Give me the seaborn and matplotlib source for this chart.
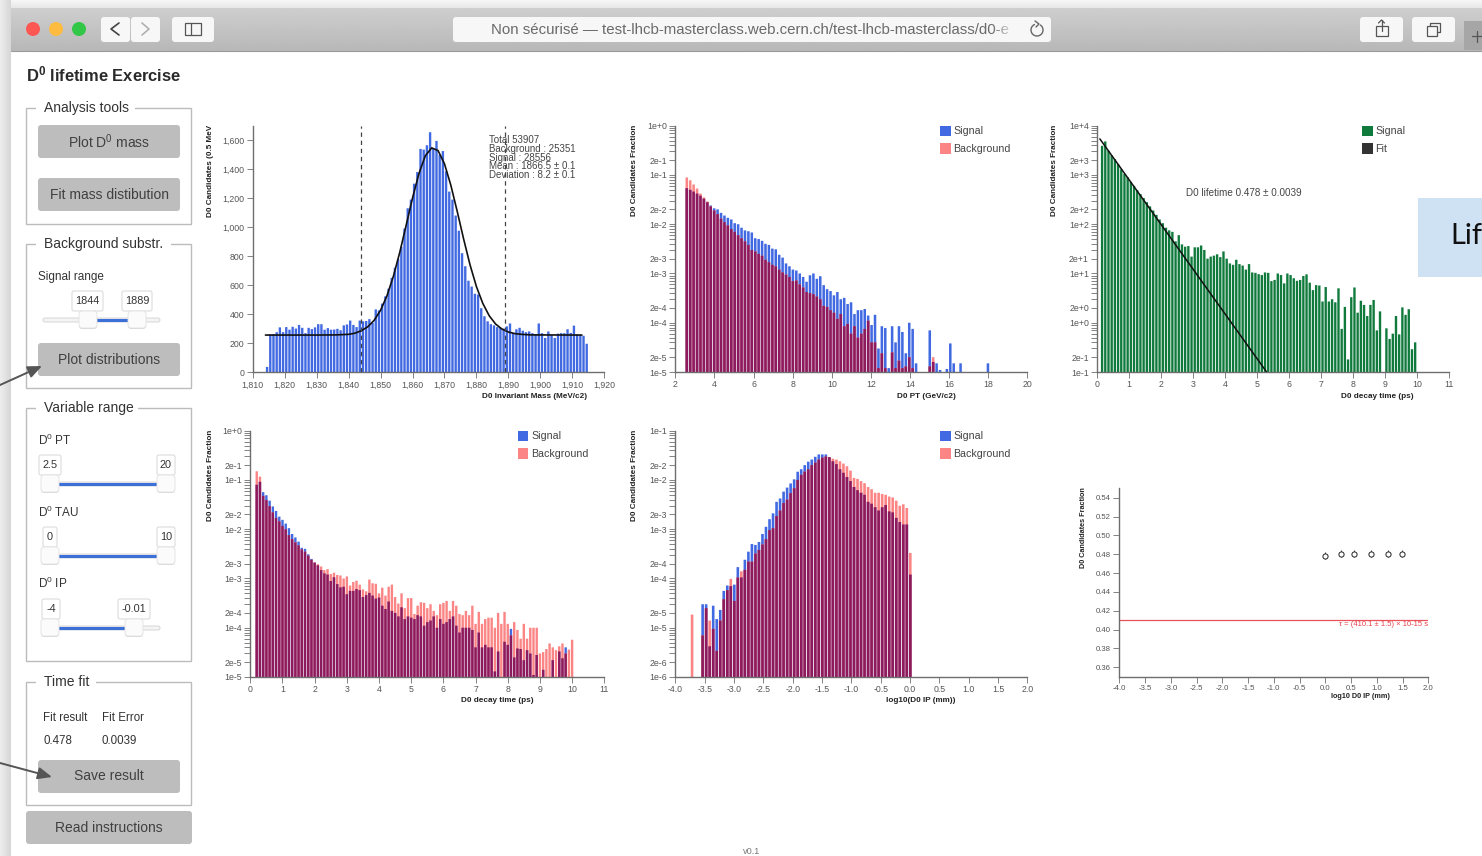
import numpy as np
import pandas as pd
import matplotlib
matplotlib.use("Agg")
import matplotlib.pyplot as plt
import seaborn as sns
from matplotlib.patches import FancyBboxPatch, Rectangle, Circle, Arc
from matplotlib.ticker import FixedLocator, FixedFormatter, NullFormatter

# mass histogram, 1 MeV bins starting at 1814.5
mass_start = 1814.5
mass_counts = [35, 260, 262, 275, 308, 275, 310, 292, 312, 300, 325, 305, 268, 305, 296, 308, 330, 330, 292, 303,
               292, 293, 298, 288, 322, 328, 355, 325, 310, 355, 350, 352, 365, 340, 432, 425, 472, 522, 575, 650,
               720, 780, 865, 990, 1130, 1190, 1300, 1380, 1540, 1535, 1565, 1655, 1540, 1595, 1500, 1525, 1385,
               1245, 1190, 1080, 975, 820, 730, 630, 590, 540, 535, 440, 385, 350, 330, 322, 310, 305, 300, 315,
               335, 270, 295, 305, 285, 275, 280, 268, 262, 335, 268, 235, 280, 255, 235, 265, 268, 268, 295, 270,
               320, 260, 255, 250, 195]
mass_fit_x = [1814, 1830, 1836, 1840, 1842, 1844, 1846, 1848, 1850, 1852, 1854, 1856, 1858, 1860, 1862, 1864, 1866,
              1868, 1870, 1872, 1874, 1876, 1878, 1880, 1882, 1884, 1886, 1888, 1890, 1892, 1894, 1897, 1913]
mass_fit_y = [255, 255, 256, 260, 268, 285, 312, 357, 426, 526, 660, 825, 1012, 1201, 1369, 1492, 1547,
              1528, 1437, 1288, 1107, 917, 739, 589, 473, 388, 331, 296, 276, 265, 260, 256, 255]
mass_cuts = [1844, 1889]
mass_notes = ["Total 53907", "Background : 25351", "Signal : 28556", "Mean : 1866.5 ± 0.1", "Deviation : 8.2 ± 0.1"]

# D0 PT
pt_start = 2.5875
pt_step = 0.175
pt_signal = [.054, .050, .046, .042, .038, .033, .028, .024, .021, .020, .017, .015, .0135, .0125, .0105, .0100,
             .0085, .0075, .0072, .0068, .0052, .0050, .0046, .0040, .0038, .0032, .0031, .0024, .0021, .0016,
             .0014, .0012, .00115, .0010, .00085, .00068, .00092, .0010, .00078, .00088, .00058, .00048, .00044,
             .00036, .00042, .00030, .00032, .00024, .00026, .00015, .00018, .00018, .00019, .00014, .00009,
             .000145, .00003, .000085, .000078, .000012, .000085, .00004, .000085, .000065, .000024, .0001,
             .000075, .000015, 0, 0, 0, .00007, .000016, .000015, .000011, 0, .0000115, .000038, .000015, 0,
             .000015, 0, 0, 0, 0, 0, 0, 0, .000015]
pt_background = [.089, .078, .064, .053, .042, .035, .029, .023, .019, .016, .013, .011, .0095, .0080, .0070, .0060,
                 .0052, .0045, .0038, .0030, .0028, .0025, .0023, .0019, .0017, .0015, .0014, .0012, .00105, .00095,
                 .00085, .00070, .00072, .00060, .00052, .00042, .00040, .00038, .00034, .00030, .00022, .00021,
                 .00018, .00016, .00012, .00015, .000085, .000095, .00006, .000085, .00005, .00006, .000075, .00011,
                 .00004, .00004, .000012, .000024, .000012, .00001, .000025, .000012, .000017, .000012, .000013,
                 .00002, .000012, 0, 0, 0, 0, .000013, .00002]

# D0 decay time, background subtracted fractions
tau_start = 0.2
tau_step = 0.1
tau_signal = [.08, .092, .0565, .049, .038, .029, .0235, .018, .0155, .013, .0105, .008, .0068, .0056, .0042, .004,
              .0031, .0025, .0021, .00185, .00148, .00127, .0012, .00089, .00106, .00077, .00066, .00068, .00048,
              .00056, .00056, .00061, .00058, .00042, .00046, .00051, .00045, .00039, .00041, .00028, .00024,
              .00034, .00022, .00020, .00017, .00026, .00015, .00017, .00016, .00015, .00018, .00017, .00011,
              .00013, .00014, .00017, .00010, .00015, .00012, .00013, .00015, .00017, .00011, .00008, .00010,
              .00010, .00010, .00009, .00004, .00008, .00004, .000045, .00004, .00004, .000013, .000033, 0,
              .000052, .000045, .000095, .000025, .000038, .000037, .000022, .000035, .00003, .000011, .000028, 0,
              .000014, 0, .00001, .000022, 0, .000033, .000024, .00004, 0, 0]
tau_background = [.15, .117, .0475, .039, .0295, .022, .017, .0145, .0117, .01, .0076, .0063, .0054, .0047, .0039,
                  .0035, .0029, .0024, .0021, .00195, .00175, .00148, .00155, .00123, .00131, .00118, .00115, .001,
                  .0011, .00072, .00085, .0009, .00075, .0006, .00055, .00095, .0008, .00078, .0005, .00065, .00045,
                  .00068, .00075, .00042, .00031, .0005, .00025, .0004, .0004, .00019, .00028, .00033, .00032,
                  .00025, .0003, .00022, .00018, .0003, .00032, .00035, .00022, .00035, .00028, .00019, .00018,
                  .00022, .00018, .00028, .00012, .00021, .00012, .00015, .00016, .00016, .0001, .0002, .00012,
                  .00021, .00012, .00007, .00013, .00009, .00006, .00012, .00006, .0001, .0001, .0001, .00003,
                  .000032, .000037, .000048, .00004, .000035, .000042, .000048, .00003, .000036, .000057]

# signal only decay time with the exponential fit
fit_start = 0.15
fit_step = 0.1
fit_signal = [3900, 4800, 3100, 2500, 2100, 1650, 1300, 1050, 900, 720, 600, 490, 410, 340, 280, 230, 190, 155, 125,
              105, 85, 75, 70, 45, 60, 39, 35, 36, 22, 34, 34, 37, 30, 20, 22, 23, 24.5, 21.5, 28, 20, 16, 15, 19,
              15.5, 14.5, 12, 15.5, 10.5, 10.3, 9.7, 9.3, 10.5, 10.3, 7, 7.4, 10, 9.3, 6.3, 10, 9.3, 8, 7.1, 7.4,
              8.9, 9.6, 6.5, 4.6, 5.8, 5.7, 2.7, 5.3, 2.7, 3, 2.6, 5, .75, 2.1, .18, 3.3, 5.2, 1.6, 2.8, 2.3, 1.37,
              2.3, 2.9, .7, 1.7, 0, .77, .47, .6, 1.37, .58, 2.05, 1.45, 1.88, .29, .4]
fit_line_x = [0.08, 5.3]
fit_line_y = [5400, 0.1]

# log10 IP
ip_last = 0.006
ip_step = 0.06
ip_signal = [0, 0, 0, 3e-5, 3e-5, 4.2e-6, 2.8e-5, 1.5e-5, 2.3e-5, 5.6e-5, 7.2e-5, 7e-5, 7.5e-5, 1.7e-4, 1.05e-4,
             2.4e-4, 3.5e-4, 5e-4, 4.8e-4, 5.5e-4, 8e-4, 1.12e-3, 1.6e-3, 2.1e-3, 3.6e-3, 4.2e-3, 5.8e-3, 7e-3,
             8.5e-3, 1.03e-2, 1.47e-2, 1.65e-2, 2e-2, 2.35e-2, 2.6e-2, 2.95e-2, 3.3e-2, 3.3e-2, 3.3e-2, 2.9e-2,
             2.4e-2, 2.1e-2, 1.65e-2, 1.4e-2, 1.15e-2, 9.5e-3, 7.2e-3, 6.2e-3, 5.5e-3, 5e-3, 3.6e-3, 3.3e-3,
             2.8e-3, 2.4e-3, 2.8e-3, 3.1e-3, 2.3e-3, 2.2e-3, 1.7e-3, 1.4e-3, 1.25e-3, 1.25e-3, 1.2e-4]
ip_background = [1.85e-5, 0, 0, 7e-6, 2.5e-5, 1.4e-5, 9.5e-6, 3.4e-6, 1.4e-5, 3.8e-5, 5.8e-5, 9.8e-5, 3.5e-5, 1.05e-4,
                 1.4e-4, 1.5e-4, 2.2e-4, 2.2e-4, 3.2e-4, 3.8e-4, 4.9e-4, 6.3e-4, 9.6e-4, 1.05e-3, 1.85e-3, 2.4e-3,
                 3.4e-3, 4e-3, 5.4e-3, 6.8e-3, 1e-2, 1.27e-2, 1.47e-2, 1.65e-2, 2e-2, 2.25e-2, 2.6e-2, 2.85e-2, 3e-2,
                 2.9e-2, 2.7e-2, 2.6e-2, 2.4e-2, 2.15e-2, 1.9e-2, 1.55e-2, 1.1e-2, 1.05e-2, 9.5e-3, 8.6e-3, 7.2e-3,
                 6.5e-3, 5.5e-3, 5.5e-3, 5.2e-3, 5e-3, 4.6e-3, 4.4e-3, 3.8e-3, 3e-3, 3.2e-3, 2.7e-3, 3.3e-4]

# saved lifetime results
result_x = [0.0, 0.31, 0.55, 0.88, 1.22, 1.49]
result_y = [0.4784, 0.4805, 0.4805, 0.4805, 0.4805, 0.4805]
result_err = [0.0039, 0.0039, 0.0039, 0.0039, 0.0039, 0.0039]
pdg_value = 0.4101

W, H = 1482, 856
BLUE = "#4169e1"
PINK = "#fb8585"
OVERLAP = "#8e1a5e"
GREEN = "#0f7a3c"
AXIS_GREY = "#6e6e6e"
TEXT_GREY = "#555555"
BUTTON = "#bdbdbd"
BOX_LINE = "#bcbcbc"

sns.set_theme(style="white")
plt.rcParams["font.family"] = ["Liberation Sans", "DejaVu Sans"]
plt.rcParams["mathtext.default"] = "regular"

fig = plt.figure(figsize=(W / 100, H / 100), dpi=100, facecolor="white")


def px_axes(left, right, top, bottom):
    return fig.add_axes([left / W, 1 - bottom / H, (right - left) / W, (bottom - top) / H], facecolor="none")


def style_axes(ax, tick_size=6.3):
    sns.despine(ax=ax)
    for side in ["left", "bottom"]:
        ax.spines[side].set_color(AXIS_GREY)
        ax.spines[side].set_linewidth(1.0)
    ax.tick_params(axis="both", which="both", length=4, width=0.6, color=AXIS_GREY,
                   labelcolor=TEXT_GREY, labelsize=tick_size, pad=2, left=True, bottom=True)
    ax.set_xlabel("")
    ax.set_ylabel("")


def log_ticks(ax, low, high):
    major, labels, minor = [], [], []
    for exp in range(low, high + 1):
        major.append(10.0 ** exp)
        labels.append(f"1e{exp:+d}")
        if exp < high:
            major.append(2 * 10.0 ** exp)
            labels.append(f"2e{exp:+d}")
            minor += [k * 10.0 ** exp for k in range(3, 10)]
    ax.set_ylim(10.0 ** low, 10.0 ** high)
    ax.yaxis.set_major_locator(FixedLocator(major))
    ax.yaxis.set_major_formatter(FixedFormatter(labels))
    ax.yaxis.set_minor_locator(FixedLocator(minor))
    ax.yaxis.set_minor_formatter(NullFormatter())


def draw_bars(ax, x, y, color, width=0.74):
    frame = pd.DataFrame({"x": x, "y": y})
    frame = frame[frame["y"] > 0]
    before = len(ax.patches)
    sns.barplot(data=frame, x="x", y="y", native_scale=True, color=color, saturation=1,
                errorbar=None, width=width, linewidth=0, ax=ax)
    # no pixel snapping, otherwise neighbouring bars merge unevenly
    for patch in ax.patches[before:]:
        patch.set_snap(False)


def compare_panel(ax, x, signal, background, xlim, xticks, xlabels, low, high):
    n = max(len(signal), len(background))
    x = x[:n]
    signal = np.array(list(signal) + [0] * (n - len(signal)))
    background = np.array(list(background) + [0] * (n - len(background)))
    ax.set_yscale("log")
    draw_bars(ax, x, signal, BLUE)
    draw_bars(ax, x, background, PINK)
    draw_bars(ax, x, np.minimum(signal, background), OVERLAP)
    ax.set_xlim(*xlim)
    ax.set_xticks(xticks)
    ax.set_xticklabels(xlabels)
    log_ticks(ax, low, high)
    style_axes(ax)


# background layer for the browser window and the control panel
ui = fig.add_axes([0, 0, 1, 1], facecolor="none", zorder=5)


def box(x0, y0, x1, y1, color="white", edge="none", lw=0.8, radius=3, z=2):
    ui.add_patch(FancyBboxPatch((x0 + radius, y0 + radius), x1 - x0 - 2 * radius, y1 - y0 - 2 * radius,
                                boxstyle=f"round,pad={radius},rounding_size={radius}",
                                facecolor=color, edgecolor=edge, linewidth=lw, zorder=z))


def label(x, y, text, size=10, color="#333333", ha="left", va="center", **kw):
    return ui.text(x, y, text, fontsize=size, color=color, ha=ha, va=va, **kw)


def gradient(x0, x1, y0, y1, start, end, horizontal=False, z=1):
    ramp = np.linspace(start, end, 64)
    img = ramp[None, :] if horizontal else ramp[:, None]
    ui.imshow(img, extent=(x0, x1, y1, y0), cmap="gray", vmin=0, vmax=1, aspect="auto", zorder=z)


def fieldset(x0, y0, x1, y1, title, text_right):
    ui.add_patch(Rectangle((x0, y0), x1 - x0, y1 - y0, fill=False, edgecolor=BOX_LINE, linewidth=1, zorder=2))
    ui.add_patch(Rectangle((36, y0 - 4), text_right - 36, 8, facecolor="white", edgecolor="none", zorder=3))
    label(44, y0 - 0.5, title, size=10.0, zorder=4)


def button(x0, y0, x1, y1, text):
    box(x0, y0, x1, y1, color=BUTTON, radius=3)
    label((x0 + x1) / 2, (y0 + y1) / 2, text, size=10, color="#404040", ha="center", zorder=4)


def slider(y, left, right, track_left=43, track_right=160):
    box(track_left, y - 2, track_right, y + 2, color="#f4f4f4", edge="#d6d6d6", lw=0.7, radius=2, z=2)
    ui.plot([left, right], [y, y], color="#3d6fd8", lw=2.2, zorder=3, solid_capstyle="butt")
    for hx in (left, right):
        box(hx - 9, y - 8, hx + 9, y + 9, color="#d9d9d9", radius=3, z=3)
        box(hx - 9, y - 9, hx + 9, y + 8, color="#fbfbfb", edge="#e2e2e2", lw=0.6, radius=3, z=3)


def input_box(x0, x1, y0, y1, text):
    box(x0, y0, x1, y1, color="white", edge="#dcdcdc", lw=0.8, radius=2, z=3)
    label((x0 + x1) / 2, (y0 + y1) / 2, text, size=7.8, ha="center", zorder=4)


def draw_chrome():
    gradient(0, W, 0, 9, 0.97, 0.90)
    gradient(0, 11, 0, H, 0.93, 0.84, horizontal=True)
    gradient(11, W, 8, 51, 0.81, 0.72)
    ui.plot([11, W], [51, 51], color="#9a9a9a", lw=0.8, zorder=2)
    for cx, col in zip([33, 56, 79], ["#fc5753", "#fdbc40", "#33c748"]):
        ui.add_patch(Circle((cx, 29), 7, facecolor=col, edgecolor="none", zorder=3))
    for x0, x1 in [(101, 130), (131, 160), (172, 214), (1360, 1403), (1412, 1455), (453, 1051)]:
        box(x0, 17, x1, 42, color="#f7f7f7", radius=3)
    ui.plot([119, 111, 119], [23, 29, 35], color="#444444", lw=1.2, zorder=4)
    ui.plot([142, 149, 142], [23, 29, 35], color="#b0b0b0", lw=1.2, zorder=4)
    ui.add_patch(Rectangle((185, 23), 16, 12, fill=False, edgecolor="#555555", lw=0.9, zorder=4))
    ui.plot([191, 191], [23, 35], color="#555555", lw=0.9, zorder=4)
    ui.add_patch(Rectangle((1375.5, 26), 12, 10, fill=False, edgecolor="#555555", lw=0.9, zorder=4))
    ui.plot([1381.5, 1381.5], [20, 31], color="#555555", lw=0.9, zorder=4)
    ui.plot([1378.5, 1381.5, 1384.5], [23, 20, 23], color="#555555", lw=0.9, zorder=4)
    ui.add_patch(Rectangle((1427, 26), 10, 10, fill=False, edgecolor="#555555", lw=0.9, zorder=4))
    ui.plot([1430, 1430, 1440, 1440, 1437], [26, 23, 23, 32, 32], color="#555555", lw=0.9, zorder=4)
    ui.add_patch(Rectangle((1464, 21), 18, 29, facecolor="#a6a6a6", edgecolor="none", zorder=3))
    ui.plot([1472, 1482], [36, 36], color="#555555", lw=0.9, zorder=4)
    ui.plot([1477, 1477], [31, 42], color="#555555", lw=0.9, zorder=4)
    label(491, 30, "Non sécurisé — test-lhcb-masterclass.web.cern.ch/test-lhcb-masterclass/d0-e",
          size=10.85, color="#6a6a6a", zorder=4)
    fade = np.ones((2, 32, 4)) * 0.97
    fade[:, :, 3] = np.linspace(0, 1, 32)
    ui.imshow(fade, extent=(992, 1016, 40, 19), aspect="auto", zorder=5)
    ui.add_patch(Rectangle((1016, 19), 10, 21, facecolor="#f7f7f7", edgecolor="none", zorder=5))
    ui.add_patch(Arc((1037, 30), 12, 12, theta1=-60, theta2=250, edgecolor="#666666", lw=1, zorder=6))
    ui.plot([1035, 1039, 1036], [21, 24, 27], color="#666666", lw=1, zorder=6)


def draw_controls():
    label(26, 74.5, "D$^{0}$ lifetime Exercise", size=11.9, color="#2a2a2a", fontweight="bold")
    fieldset(26, 108, 191, 224, "Analysis tools", 135)
    button(38, 125, 180, 158, "Plot D$^{0}$ mass")
    button(38, 178, 180, 211, "Fit mass distibution")

    fieldset(26, 244, 191, 388, "Background substr.", 171)
    label(38, 277, "Signal range", size=8.5)
    input_box(72, 103, 291, 311, "1844")
    input_box(122, 152, 291, 311, "1889")
    slider(320, 88, 137)
    button(38, 343, 180, 376, "Plot distributions")

    fieldset(26, 408, 191, 661, "Variable range", 138)
    label(38, 440, "D$^{0}$ PT", size=8.5)
    input_box(39, 61, 455, 475, "2.5")
    input_box(157, 175, 455, 475, "20")
    slider(484, 50, 166)
    label(38, 512, "D$^{0}$ TAU", size=8.5)
    input_box(43, 57, 527, 547, "0")
    input_box(157, 175, 527, 547, "10")
    slider(556, 50, 166)
    label(38, 583, "D$^{0}$ IP", size=8.5)
    input_box(42, 60, 599, 619, "-4")
    input_box(118, 150, 599, 619, "-0.01")
    slider(628, 50, 134)

    fieldset(26, 682, 191, 805, "Time fit", 96)
    label(43, 718, "Fit result", size=8.3)
    label(102, 718, "Fit Error", size=8.3)
    label(43, 741, "0.478", size=8.3)
    label(102, 741, "0.0039", size=8.3)
    button(38, 760, 180, 793, "Save result")
    button(26, 811, 192, 844, "Read instructions")
    label(752, 851, "v0.1", size=6.6, color="#777777", ha="center")

    for start, tip in [((0, 385), (42, 366)), ((0, 763), (52, 777))]:
        ui.annotate("", xy=tip, xytext=start, zorder=6,
                    arrowprops=dict(arrowstyle="-|>,head_length=0.7,head_width=0.3", color="#555555", lw=1.4,
                                    shrinkA=0, shrinkB=0))

    ui.add_patch(Rectangle((1418, 198), 64, 79, facecolor="#cfe2f3", edgecolor="none", zorder=3))
    label(1450, 236, "Lif", size=21, color="#111111", family="Lato", zorder=4)


def legend(x, y0, entries):
    for i, (name, col) in enumerate(entries):
        y = y0 + i * 17.6
        ui.add_patch(Rectangle((x, y - 5), 10.5, 10.5, facecolor=col, edgecolor="none", zorder=4))
        label(x + 13.5, y + 0.4, name, size=7.7, color="#444444", zorder=4)


def axis_titles(xlabel, xright, xy, ylabel, yx, ytop=124.7, size=5.9):
    label(xright, xy, xlabel, size=size, color="#222222", ha="right", fontweight="bold")
    label(yx + 1, ytop, ylabel, size=size, color="#222222", ha="center", va="top", rotation=90, fontweight="bold")


def main():
    # mass
    ax = px_axes(252.7, 604.3, 125.7, 372)
    mass_x = mass_start + np.arange(len(mass_counts))
    draw_bars(ax, mass_x, mass_counts, BLUE)
    sns.lineplot(x=mass_fit_x, y=mass_fit_y, color="#111111", lw=1.2, ax=ax, estimator=None)
    for cut in mass_cuts:
        ax.axvline(cut, color="#444444", lw=0.9, ls=(0, (3.5, 3)))
    ax.set_xlim(1810, 1920)
    ax.set_ylim(0, 1700)
    ax.set_xticks(range(1810, 1921, 10))
    ax.set_xticklabels([f"{v:,}" for v in range(1810, 1921, 10)])
    ax.set_yticks(range(0, 1601, 200))
    ax.set_yticklabels([f"{v:,}" for v in range(0, 1601, 200)])
    style_axes(ax)
    for i, note in enumerate(mass_notes):
        label(489, 139.7 + 8.9 * i, note, size=7.05, color="#444444", zorder=4)
    axis_titles("D0 Invariant Mass (MeV/c2)", 586.7, 396, "D0 Candidates (0.5 MeV", 210)

    # pt
    ax = px_axes(675.3, 1027.3, 125.7, 372)
    pt_x = pt_start + pt_step * np.arange(100)
    compare_panel(ax, pt_x, pt_signal, pt_background, (2, 20), range(2, 21, 2), range(2, 21, 2), -5, 0)
    legend(940, 130.7, [("Signal", BLUE), ("Background", PINK)])
    axis_titles("D0 PT (GeV/c2)", 955.7, 396, "D0 Candidates Fraction", 633)

    # fit
    ax = px_axes(1097.3, 1448.7, 125.7, 372)
    ax.set_yscale("log")
    draw_bars(ax, fit_start + fit_step * np.arange(len(fit_signal)), fit_signal, GREEN)
    sns.lineplot(x=fit_line_x, y=fit_line_y, color="#111111", lw=1.1, ax=ax, estimator=None)
    ax.set_xlim(0, 11)
    ax.set_xticks(range(12))
    log_ticks(ax, -1, 4)
    style_axes(ax)
    label(1186, 192.7, "D0 lifetime 0.478 ± 0.0039", size=7.1, color="#444444", zorder=4)
    legend(1362, 130.7, [("Signal", GREEN), ("Fit", "#333333")])
    axis_titles("D0 decay time (ps)", 1414, 396, "D0 Candidates Fraction", 1054)

    # decay time
    ax = px_axes(250.3, 604.3, 430.7, 677)
    tau_x = tau_start + tau_step * np.arange(len(tau_background))
    compare_panel(ax, tau_x, tau_signal, tau_background, (0, 11), range(12), range(12), -5, 0)
    legend(517.7, 435.7, [("Signal", BLUE), ("Background", PINK)])
    axis_titles("D0 decay time (ps)", 533.3, 701, "D0 Candidates Fraction", 210, ytop=429.7)

    # impact parameter
    ax = px_axes(675.3, 1027.3, 430.7, 677)
    ip_x = ip_last - ip_step * np.arange(len(ip_signal))[::-1]
    ip_ticks = np.arange(-4, 2.01, 0.5)
    compare_panel(ax, ip_x, ip_signal, ip_background, (-4, 2), ip_ticks, [f"{v:.1f}" for v in ip_ticks], -6, -1)
    legend(940, 435.7, [("Signal", BLUE), ("Background", PINK)])
    axis_titles("log10(D0 IP (mm))", 955.7, 701, "D0 Candidates Fraction", 633, ytop=429.7)

    # saved results
    ax = px_axes(1119.3, 1428.3, 488.3, 676.7)
    ax.errorbar(result_x, result_y, yerr=result_err, fmt="none", ecolor="#222222", elinewidth=0.6)
    sns.scatterplot(x=result_x, y=result_y, marker="o", s=14, facecolor="white", edgecolor="#222222",
                    linewidth=0.7, zorder=3, ax=ax)
    ax.axhline(pdg_value, color="#e8505b", lw=0.9)
    ax.set_xlim(-4, 2)
    ax.set_ylim(0.35, 0.55)
    ax.set_xticks(ip_ticks)
    ax.set_xticklabels([f"{v:.1f}" for v in ip_ticks])
    ax.set_yticks(np.arange(0.36, 0.541, 0.02))
    ax.set_yticklabels([f"{v:.2f}" for v in np.arange(0.36, 0.541, 0.02)])
    style_axes(ax, tick_size=5.6)
    label(1428, 625, "τ = (410.1 ± 1.5) × 10-15 s", size=5.5, color="#e8404c", ha="right", zorder=4)
    axis_titles("log10 D0 IP (mm)", 1390, 697, "D0 Candidates Fraction", 1082.7, ytop=487.3, size=5.2)

    draw_chrome()
    draw_controls()
    ui.set_xlim(0, W)
    ui.set_ylim(H, 0)
    ui.axis("off")
    fig.savefig("out.png", dpi=100)


if __name__ == "__main__":
    main()
